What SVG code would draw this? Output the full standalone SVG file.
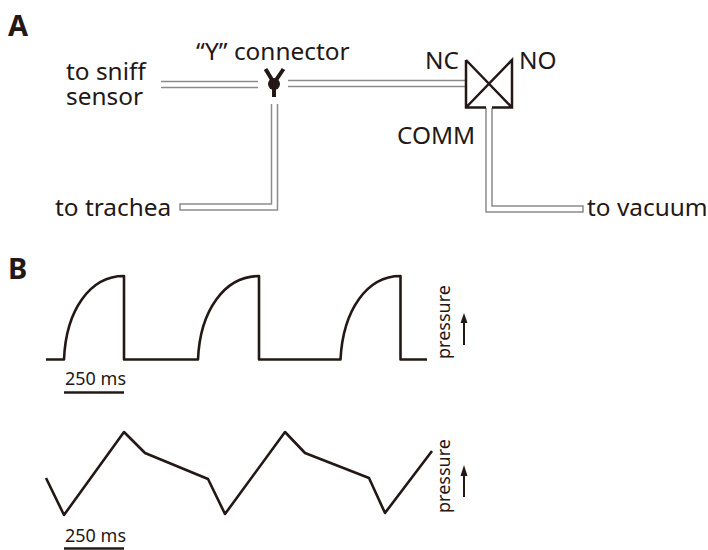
<svg xmlns="http://www.w3.org/2000/svg" width="708" height="550" viewBox="0 0 708 550">
<style>
text{font-family:"Noto Sans","Open Sans","Liberation Sans",sans-serif;fill:#231815}
.l{font-size:24.4px}
.h{font-size:29px;font-weight:700}
.s{font-size:18px}
.t{fill:none;stroke:#8f8a8a;stroke-width:1.5}
.w{fill:none;stroke:#231815;stroke-width:2.6;stroke-linejoin:round}
.v{fill:none;stroke:#231815;stroke-width:2.5}
</style>
<rect width="708" height="550" fill="#fff"/>
<text class="h" x="8" y="36">A</text>
<text class="h" x="8" y="279">B</text>
<g id="connectors">
<path class="t" d="M161 81.500H258M161 87.500H258"/>
<path class="t" d="M288 80.500H466M288 86.500H466"/>
<path class="t" d="M271.500 104V204H180V210H277.500V104"/>
<path class="t" d="M486 108V212H583V206H492V108"/>
</g>
<g id="y-connector">
<path d="M265.500 69L274 83L283.500 69" fill="none" stroke="#231815" stroke-width="4"/>
<circle cx="274" cy="84" r="6" fill="#231815"/>
<path d="M274 88V97" stroke="#231815" stroke-width="4"/>
</g>
<g id="valve">
<path class="v" d="M466 60V107.500H486M492 107.500H512V60L466 107.500M466 60L512 107.500"/>
</g>
<g id="labels">
<text class="l" x="66" y="80">to sniff</text>
<text class="l" x="66" y="105">sensor</text>
<text class="l" x="196" y="60">“Y” connector</text>
<text class="l" x="425" y="69">NC</text>
<text class="l" x="519" y="69">NO</text>
<text class="l" x="397" y="144">COMM</text>
<text class="l" x="55" y="216">to trachea</text>
<text class="l" x="587" y="216">to vacuum</text>
</g>
<g id="trace-1">
<path class="w" d="M46 359.500H64C66 310 90 276 124 276V359.500H198C200 310 225 276 259 276V359.500H340.500C343 310 367 276 400.500 276V359.500H427"/>
<text class="s" x="65" y="385">250 ms</text>
<path d="M64 392.500H124" stroke="#231815" stroke-width="2.4"/>
<text class="s" transform="translate(450 359) rotate(-90)">pressure</text>
<path d="M464 345V320" stroke="#231815" stroke-width="2"/>
<path d="M460.500 323L464 313L467.500 323z" fill="#231815"/>
</g>
<g id="trace-2">
<path class="w" d="M46 478L64 515L124 432L145 453L208 479L225 514L285 432L305 453L369 478L385 513L432 451"/>
<text class="s" x="65" y="542">250 ms</text>
<path d="M64 548.500H124" stroke="#231815" stroke-width="2.4"/>
<text class="s" transform="translate(450 513) rotate(-90)">pressure</text>
<path d="M464 497V472" stroke="#231815" stroke-width="2"/>
<path d="M460.500 476L464 465L467.500 476z" fill="#231815"/>
</g>
</svg>
